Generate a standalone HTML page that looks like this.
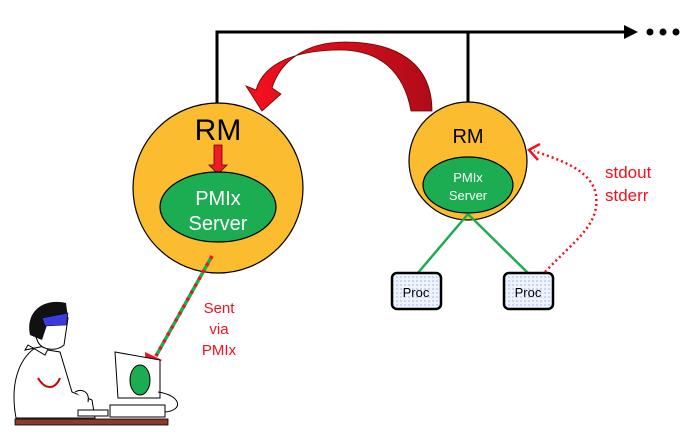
<!DOCTYPE html>
<html><head><style>body{margin:0;background:#fff}svg{display:block}text{font-family:"Liberation Sans",sans-serif}</style></head><body>
<svg width="692" height="441" viewBox="0 0 692 441">
<defs>
<pattern id="dots" width="4" height="4" patternUnits="userSpaceOnUse"><rect width="4" height="4" fill="#eef4ff"/><circle cx="1" cy="1" r="0.6" fill="#6a8ad8"/></pattern>
<linearGradient id="rg" x1="0" x2="1"><stop offset="0" stop-color="#f5101f"/><stop offset="1" stop-color="#b00c18"/></linearGradient>
</defs>
<polyline points="217,103 217,32 468,32 468,103" fill="none" stroke="#000" stroke-width="3"/>
<line x1="468" y1="32" x2="628" y2="32" stroke="#000" stroke-width="3"/>
<polygon points="624,25 638,32 624,39" fill="#000"/>
<circle cx="650" cy="32" r="3.5" fill="#000"/><circle cx="663" cy="32" r="3.5" fill="#000"/><circle cx="676" cy="32" r="3.5" fill="#000"/>
<!-- red curved arrow -->
<path d="M432,111 C432,62 395,42 345,42 C305,42 280,62 272,88 L281,94 L262,111 L246,86 L256,90 C264,62 298,50 340,50 C380,50 404,72 411,111 Z" fill="url(#rg)" stroke="#600" stroke-width="0.8"/>
<!-- left RM -->
<circle cx="218" cy="188" r="85" fill="#fbbc30" stroke="#000" stroke-width="1.2"/>
<text x="218" y="140" font-size="30" text-anchor="middle">RM</text>
<polygon points="214,145 222,145 222,165 227,165 218,174 209,165 214,165" fill="#ee1c25" stroke="#600" stroke-width="0.8"/>
<ellipse cx="218" cy="207" rx="58" ry="35" fill="#1cad53" stroke="#000" stroke-width="1.2"/>
<text x="218" y="205" font-size="20" fill="#fff" text-anchor="middle">PMIx</text>
<text x="218" y="230" font-size="20" fill="#fff" text-anchor="middle">Server</text>
<!-- right RM -->
<circle cx="468" cy="161" r="59" fill="#fbbc30" stroke="#000" stroke-width="1.2"/>
<text x="468" y="143" font-size="20" text-anchor="middle">RM</text>
<ellipse cx="468" cy="185" rx="45" ry="28" fill="#1cad53" stroke="#000" stroke-width="1.2"/>
<text x="468" y="182" font-size="13" fill="#fff" text-anchor="middle">PMIx</text>
<text x="468" y="200" font-size="13" fill="#fff" text-anchor="middle">Server</text>
<line x1="468" y1="214" x2="417" y2="274" stroke="#1cad53" stroke-width="2.5"/>
<line x1="468" y1="214" x2="529" y2="274" stroke="#1cad53" stroke-width="2.5"/>
<rect x="392" y="273" width="49" height="36" rx="5" fill="url(#dots)" stroke="#000" stroke-width="2.5"/>
<text x="416" y="297" font-size="13" text-anchor="middle">Proc</text>
<rect x="504" y="273" width="49" height="36" rx="5" fill="url(#dots)" stroke="#000" stroke-width="2.5"/>
<text x="528" y="297" font-size="13" text-anchor="middle">Proc</text>
<path d="M545,272 C575,240 600,225 596,195 C592,170 560,160 534,151" fill="none" stroke="#f5101f" stroke-width="2.5" stroke-dasharray="2,3"/>
<polyline points="540,144 529,150 538,160" fill="none" stroke="#f5101f" stroke-width="2.5"/>
<text x="605" y="178" font-size="17" fill="#f5101f">stdout</text>
<text x="605" y="201" font-size="17" fill="#f5101f">stderr</text>
<text x="219" y="313" font-size="15" fill="#f5101f" text-anchor="middle">Sent</text>
<text x="219" y="334" font-size="15" fill="#f5101f" text-anchor="middle">via</text>
<text x="219" y="355" font-size="15" fill="#f5101f" text-anchor="middle">PMIx</text>
<!-- dashed link -->
<line x1="212" y1="256" x2="156" y2="356" stroke="#1cad53" stroke-width="3.5"/>
<line x1="212" y1="256" x2="156" y2="356" stroke="#f5101f" stroke-width="3.5" stroke-dasharray="3,5"/>
<polygon points="146,372 145,352 162,360" fill="#f5101f"/>
<!-- person & computer -->
<polygon points="115,352 160,360 160,398 118,398" fill="#fff" stroke="#000"/>
<ellipse cx="140" cy="380" rx="10" ry="15" fill="#1cad53" stroke="#000"/>
<rect x="110" y="405" width="55" height="12" fill="#fff" stroke="#000"/>
<path d="M158,392 C180,395 185,410 165,412" fill="none" stroke="#000"/>
<rect x="15" y="419" width="153" height="6" fill="#8b3a2e" stroke="#000" stroke-width="0.8"/>
<path d="M16,418 C10,385 18,360 35,348 L60,352 L72,392 L92,400 L95,418 Z" fill="#fff" stroke="#000"/>
<path d="M25,350 L28,345 L45,355 L50,345 Z" fill="#fff" stroke="#000"/>
<path d="M32,328 C33,310 55,305 68,318 L64,345 C56,352 42,350 38,342 Z" fill="#fff" stroke="#000"/>
<path d="M30,335 C25,310 45,298 66,303 L68,318 L48,322 L42,340 Z" fill="#111"/>
<polygon points="42,318 68,313 66,325 45,326" fill="#3a3ae0" stroke="#000" stroke-width="0.6"/>
<path d="M38,378 C45,390 55,390 60,378" fill="none" stroke="#c00" stroke-width="2"/>
<path d="M75,392 C82,388 90,392 88,402" fill="#fff" stroke="#000"/>
<rect x="78" y="410" width="30" height="6" fill="#fff" stroke="#000"/>
</svg>
</body></html>
